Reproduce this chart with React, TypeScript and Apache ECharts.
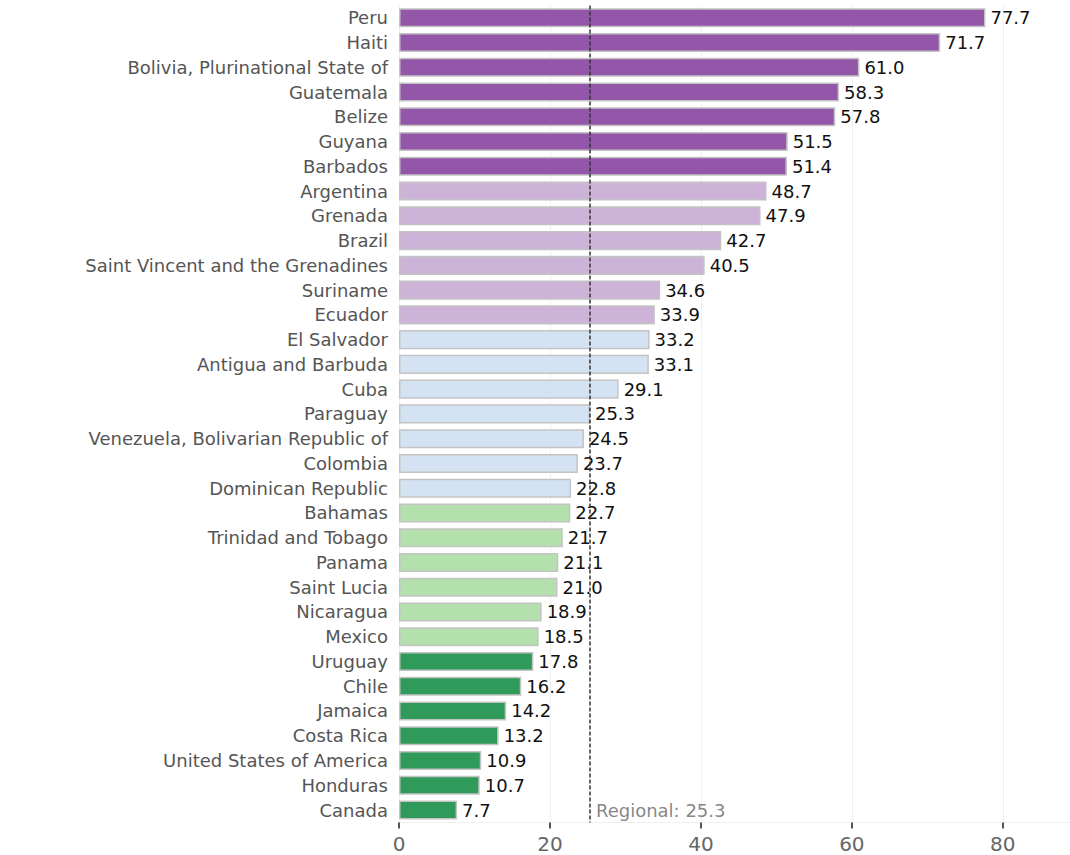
import React, { useEffect, useRef } from "react";
import * as echarts from "echarts";

const countries = [
  "Peru", "Haiti", "Bolivia, Plurinational State of", "Guatemala", "Belize", "Guyana", "Barbados",
  "Argentina", "Grenada", "Brazil", "Saint Vincent and the Grenadines", "Suriname", "Ecuador",
  "El Salvador", "Antigua and Barbuda", "Cuba", "Paraguay", "Venezuela, Bolivarian Republic of",
  "Colombia", "Dominican Republic",
  "Bahamas", "Trinidad and Tobago", "Panama", "Saint Lucia", "Nicaragua", "Mexico",
  "Uruguay", "Chile", "Jamaica", "Costa Rica", "United States of America", "Honduras", "Canada",
];
const values = [
  77.7, 71.7, 61.0, 58.3, 57.8, 51.5, 51.4,
  48.7, 47.9, 42.7, 40.5, 34.6, 33.9,
  33.2, 33.1, 29.1, 25.3, 24.5, 23.7, 22.8,
  22.7, 21.7, 21.1, 21.0, 18.9, 18.5,
  17.8, 16.2, 14.2, 13.2, 10.9, 10.7, 7.7,
];
const groups = [
  0, 0, 0, 0, 0, 0, 0,
  1, 1, 1, 1, 1, 1,
  2, 2, 2, 2, 2, 2, 2,
  3, 3, 3, 3, 3, 3,
  4, 4, 4, 4, 4, 4, 4,
];
const groupColors = ["#9356a8", "#cdb3d8", "#d4e3f3", "#b4e0ad", "#2f9a5a"];
const regional = 25.3;
const xTicks = [0, 20, 40, 60, 80];

export default function App() {
  const ref = useRef<HTMLDivElement>(null);
  useEffect(() => {
    document.body.style.margin = "0";
    const chart = echarts.init(ref.current!, undefined, { renderer: "svg" });
    const font = "DejaVu Sans";
    chart.setOption({
      animation: false,
      grid: { left: 399, right: 0, top: 5.4, bottom: 32.6, containLabel: false },
      xAxis: {
        type: "value",
        min: 0,
        max: 88.9,
        interval: 20,
        axisLine: { show: true, lineStyle: { color: "#f0f0f0", width: 1 } },
        axisTick: { show: true, length: 6, customValues: xTicks, lineStyle: { color: "#555", width: 2 } },
        splitLine: { show: true, lineStyle: { color: "#f0f0f0", width: 1 } },
        axisLabel: {
          color: "#666",
          fontSize: 20,
          fontFamily: font,
          margin: 12,
          customValues: xTicks,
        },
      },
      yAxis: {
        type: "category",
        inverse: true,
        data: countries,
        axisLine: { show: false },
        axisTick: { show: false },
        axisLabel: { color: "#555", fontSize: 18, fontFamily: font, margin: 11 },
      },
      series: [
        {
          type: "bar",
          barCategoryGap: "23%",
          data: values.map((v, i) => ({
            value: v,
            itemStyle: { color: groupColors[groups[i]], borderColor: "#c4c4c4", borderWidth: 1.5 },
          })),
          label: {
            show: true,
            position: "right",
            distance: 5,
            color: "#111",
            fontSize: 18,
            fontFamily: font,
            formatter: (p: any) => p.value.toFixed(1),
          },
          markLine: {
            silent: true,
            symbol: "none",
            label: { show: false },
            lineStyle: { type: [4, 2], color: "#333", width: 1.5 },
            data: [{ xAxis: regional }],
            z: 10,
          },
        },
        {
          type: "scatter",
          symbolSize: 0,
          data: [[regional, countries[countries.length - 1]]],
          label: {
            show: true,
            position: "right",
            distance: 6,
            color: "#666",
            fontSize: 18,
            fontFamily: font,
            formatter: () => "Regional: " + regional.toFixed(1),
          },
          z: 11,
        },
      ],
    });
    return () => chart.dispose();
  }, []);
  return <div ref={ref} style={{ width: 1070, height: 855 }} />;
}
